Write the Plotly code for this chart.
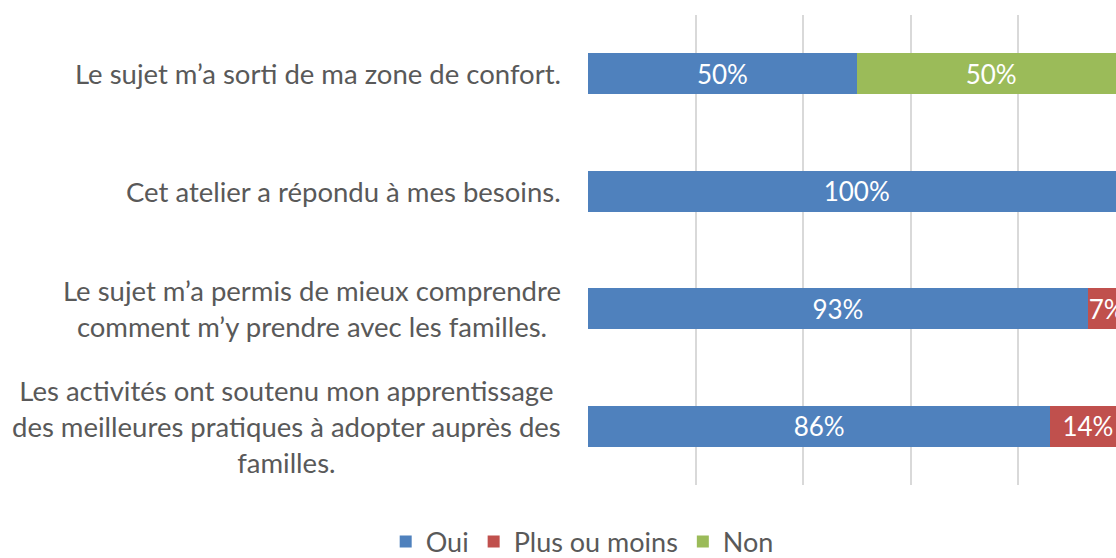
import plotly.graph_objects as go

categories = ["c1", "c2", "c3", "c4"]
labels = [
    "Le sujet m’a sorti de ma zone de confort.",
    "Cet atelier a répondu à mes besoins.",
    "Le sujet m’a permis de mieux comprendre<br>comment m’y prendre avec les familles.",
    "Les activités ont soutenu mon apprentissage<br>des meilleures pratiques à adopter auprès des<br>familles.",
]
oui = [50, 100, 93, 86]
plus = [0, 0, 7, 14]
non = [50, 0, 0, 0]

series = [("Oui", oui, "#4F81BD"), ("Plus ou moins", plus, "#C0504D"), ("Non", non, "#9BBB59")]

FONT = "Lato"
fig = go.Figure()
for name, vals, col in series:
    fig.add_trace(go.Bar(
        name=name, y=categories, x=vals, orientation="h",
        marker=dict(color=col, line=dict(width=0)),
        text=[f"{v}%" if v else "" for v in vals],
        textposition="inside", insidetextanchor="middle",
        constraintext="none", textangle=0,
        textfont=dict(color="white", size=26, family=FONT),
        width=0.35,
    ))

for cat, lab in zip(categories, labels):
    fig.add_annotation(
        x=0, xref="paper", xshift=-25, xanchor="right",
        y=cat, yref="y", yanchor="middle",
        text=lab, align="center", showarrow=False,
        font=dict(size=27.5, color="#595959", family=FONT),
    )

fig.update_layout(
    width=1116, height=558,
    barmode="stack",
    plot_bgcolor="white", paper_bgcolor="white",
    margin=dict(l=588, r=0, t=15, b=73, autoexpand=False),
    bargap=0.65,
    xaxis=dict(range=[0, 98.23], dtick=20, showgrid=True, gridcolor="#d9d9d9",
               gridwidth=1.5, showticklabels=False, zeroline=False, showline=False),
    yaxis=dict(categoryorder="array", categoryarray=categories, autorange="reversed",
               showticklabels=False, showgrid=False, zeroline=False),
    legend=dict(orientation="h",
                x=-0.011, xanchor="center", y=-0.121, yanchor="middle",
                font=dict(size=27, color="#595959", family=FONT),
                traceorder="normal", itemwidth=30),
    showlegend=True,
)

fig.write_html("out.html", config={"displayModeBar": False},
               post_script="document.body.style.margin='0';document.body.style.overflow='hidden';")
